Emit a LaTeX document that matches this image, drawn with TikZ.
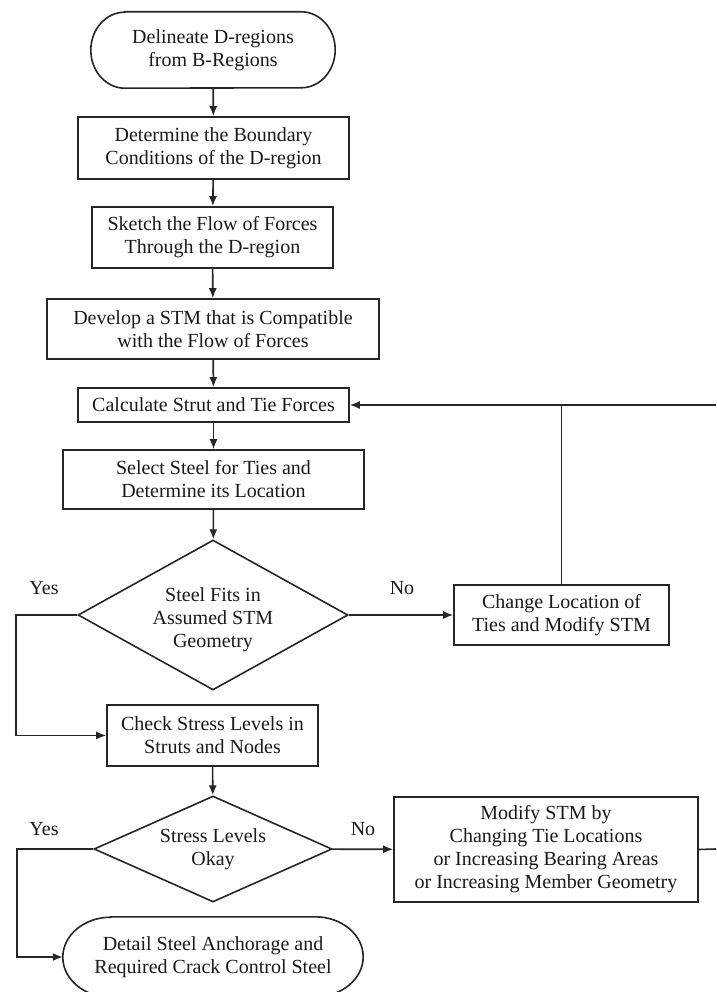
\documentclass[tikz,border=0pt]{standalone}
\usepackage{fontspec}
\setmainfont{Liberation Serif}
\usetikzlibrary{arrows.meta,shapes.geometric}
\definecolor{ink}{HTML}{262626}
\definecolor{txt}{HTML}{1A1A1A}
\tikzset{
  line/.style={draw=ink,line width=1.6pt},
  arr/.style={line,-{Latex[length=10pt,width=8pt]}},
  box/.style={line,rectangle,align=center,inner sep=2pt,text=txt,font=\fontsize{20}{23}\selectfont},
  dia/.style={line,diamond,inner sep=0pt,align=center,text=txt,font=\fontsize{20}{23}\selectfont},
  termtext/.style={rectangle,draw=none,align=center,inner sep=0pt,text=txt,font=\fontsize{20}{23}\selectfont},
  lab/.style={text=txt,font=\fontsize{20}{23}\selectfont,inner sep=0pt},
}
\newcommand\termoutline[3]{%
  \draw[line] ([xshift=#2]#1.north west) -- ([xshift=-#2]#1.north east)
    arc[start angle=90,end angle=-90,x radius=#2,y radius=#3]
    -- ([xshift=#2]#1.south west)
    arc[start angle=270,end angle=90,x radius=#2,y radius=#3] -- cycle;}
\begin{document}
\begin{tikzpicture}[x=1pt,y=-1pt]
\useasboundingbox[fill=white] (0,0) rectangle (716,992);

\node[termtext,minimum width=244pt,minimum height=76pt] (n1) at (213,50) {Delineate D-regions\\from B-Regions};
\termoutline{n1}{34pt}{38pt}

\node[box,minimum width=271pt,minimum height=62pt] (n2) at (213.5,148) {Determine the Boundary\\Conditions of the D-region};
\node[box,minimum width=241pt,minimum height=61pt] (n3) at (212.5,237.5) {Sketch the Flow of Forces\\Through the D-region};
\node[box,minimum width=332pt,minimum height=60pt] (n4) at (213,329) {Develop a STM that is Compatible\\with the Flow of Forces};
\node[box,minimum width=271pt,minimum height=34pt] (n5) at (213.5,405) {Calculate Strut and Tie Forces};
\node[box,minimum width=301pt,minimum height=59pt] (n6) at (213.5,479.5) {Select Steel for Ties and\\Determine its Location};
\node[dia,minimum width=270pt,minimum height=150pt,aspect=1.8] (d1) at (213,615) {\rule{0pt}{24pt}Steel Fits in\\Assumed STM\\Geometry};
\node[box,minimum width=215pt,minimum height=60pt] (n7) at (561.5,615) {Change Location of\\Ties and Modify STM};
\node[box,minimum width=211pt,minimum height=61pt] (n8) at (212.5,735.5) {Check Stress Levels in\\Struts and Nodes};
\node[dia,minimum width=238pt,minimum height=106pt,aspect=2.25] (d2) at (213,849) {Stress Levels\\Okay};
\node[box,minimum width=304pt,minimum height=105pt] (n9) at (546,849.5) {Modify STM by\\Changing Tie Locations\\or Increasing Bearing Areas\\or Increasing Member Geometry};
\node[termtext,minimum width=300pt,minimum height=80pt] (n10) at (213,957) {Detail Steel Anchorage and\\Required Crack Control Steel};
\termoutline{n10}{48pt}{40pt}

\node[lab] (y1l) at (44,588) {Yes};
\node[lab] (n1l) at (402,588) {No};
\node[lab] (y2l) at (44,829) {Yes};
\node[lab] (n2l) at (363,829) {No};

\draw[arr] (n1) -- (n2);
\draw[arr] (n2) -- (n3);
\draw[arr] (n3) -- (n4);
\draw[arr] (n4) -- (n5);
\draw[arr] (n5) -- (n6);
\draw[arr] (n6) -- (d1);
\draw[arr] (d1) -- (n7);
\draw[arr] (n8) -- (d2);
\draw[arr] (d2) -- (n9);

\coordinate (c1) at (16,615);
\coordinate (c2) at (17,849);
\coordinate (r1) at (716,405);
\coordinate (r2) at (716,849);
\draw[arr] (d1.west) -- (c1) |- (n8.west);
\draw[arr] (d2.west) -- (c2) |- (n10.west);
\draw[arr] (r1) -- (n5.east);
\draw[line] (n7.north) -- (n7.north |- n5.east);
\draw[line] (n9.east) -- (r2);
\end{tikzpicture}
\end{document}
